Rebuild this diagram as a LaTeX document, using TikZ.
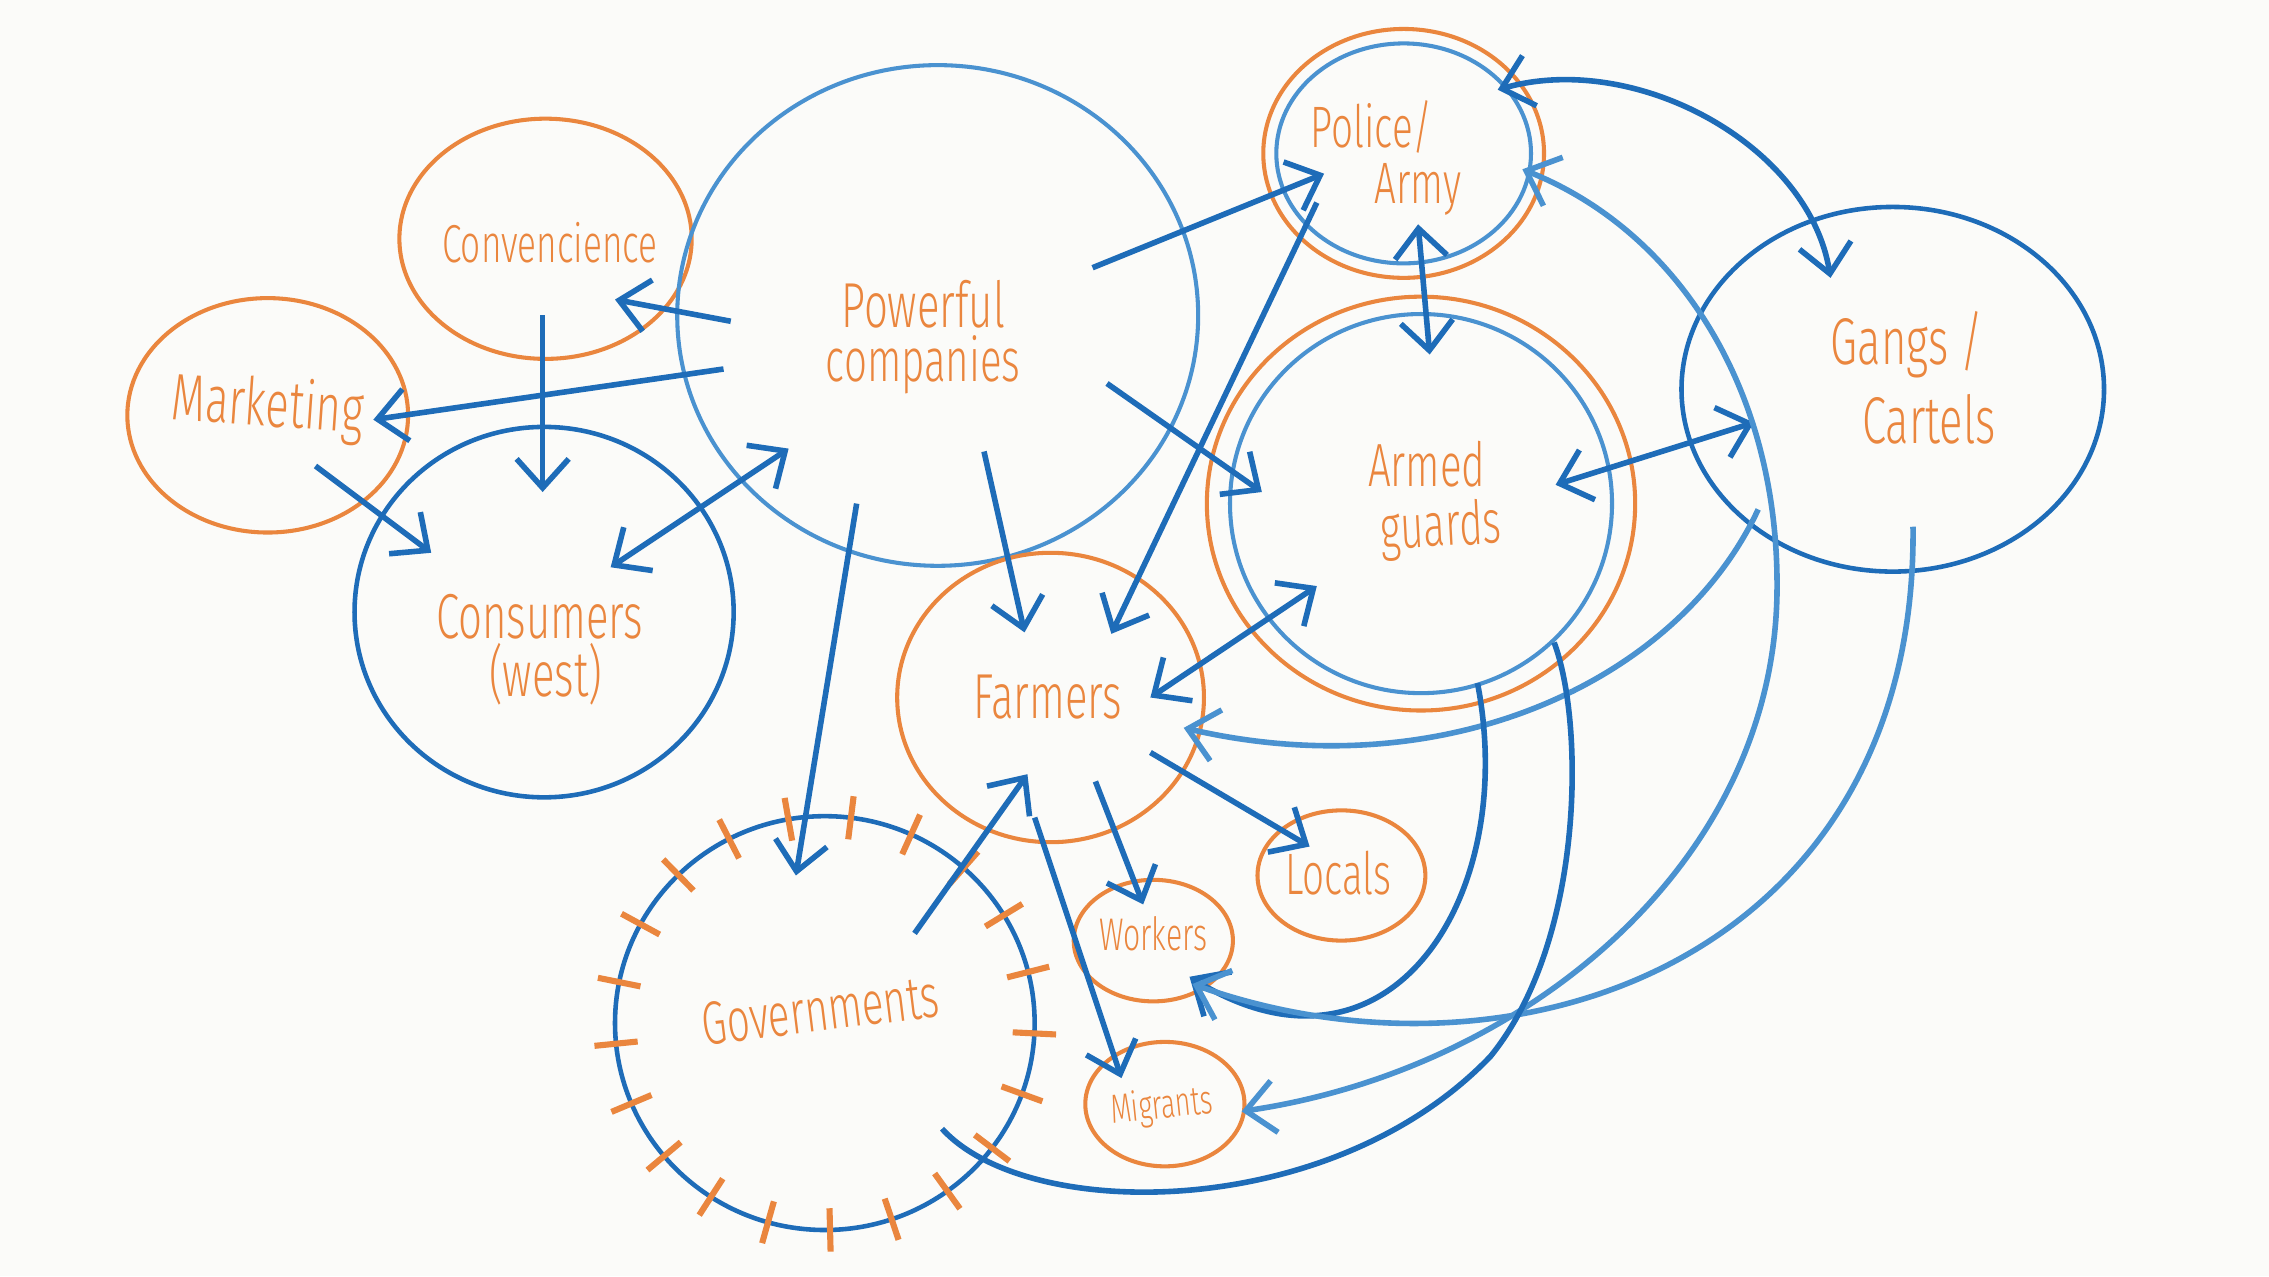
\documentclass[tikz,border=0pt]{standalone}
\usepackage{fontspec}
\newfontfamily\hand{Fira Sans Light}[FakeStretch=0.66]
\usetikzlibrary{shapes.geometric,arrows.meta,calc}
\definecolor{org}{RGB}{234,134,62}
\definecolor{blu}{RGB}{30,108,184}
\definecolor{lblu}{RGB}{74,146,208}
\definecolor{paper}{RGB}{251,251,249}
\begin{document}
\begin{tikzpicture}[x=0.1mm,y=-0.1mm,
 ocirc/.style={ellipse,draw=org,line width=0.8pt,inner sep=0pt},
 bcirc/.style={ellipse,draw=blu,line width=0.9pt,inner sep=0pt},
 lcirc/.style={ellipse,draw=lblu,line width=0.8pt,inner sep=0pt},
 lbl/.style={text=org,font=\hand\fontsize{#1}{#1}\selectfont,inner sep=0pt},
 lbl/.default=12,
 arr/.style={draw=blu,line width=1.1pt,-{Straight Barb[length=2mm,width=3.6mm]}},
 darr/.style={arr,{Straight Barb[length=2mm,width=3.6mm]}-{Straight Barb[length=2mm,width=3.6mm]}},
 ln/.style={draw=blu,line width=1.1pt},
 tick/.style={draw=org,line width=1.2pt}]
\fill[paper] (0,0) rectangle (1568,882);
\useasboundingbox (0,0) rectangle (1568,882);

% circles
\node[ocirc,minimum width=20.2mm,minimum height=16.6mm] (conv) at (377,165) {};
\node[ocirc,minimum width=19.4mm,minimum height=16.2mm] (mkt) at (185,287) {};
\node[lcirc,minimum width=36mm,minimum height=34.6mm] (pc) at (648,218) {};
\node[bcirc,minimum width=26.2mm,minimum height=25.6mm] (cons) at (376,423) {};
\node[ocirc,minimum width=19.4mm,minimum height=17.2mm] (pol) at (970,106) {};
\node[lcirc,minimum width=17.6mm,minimum height=15.2mm] (pol-in) at (970,106) {};
\node[ocirc,minimum width=29.6mm,minimum height=28.6mm] (arm) at (982,348) {};
\node[lcirc,minimum width=26.4mm,minimum height=26.2mm] (arm-in) at (982,348) {};
\node[bcirc,minimum width=29.2mm,minimum height=25.2mm] (gang) at (1308,269) {};
\node[ocirc,minimum width=21.2mm,minimum height=20mm] (farm) at (726,482) {};
\node[ocirc,minimum width=11.6mm,minimum height=9mm] (loc) at (927,605) {};
\node[ocirc,minimum width=11mm,minimum height=8.4mm] (work) at (797,650) {};
\node[ocirc,minimum width=11mm,minimum height=8.6mm] (mig) at (805,763) {};
\node[bcirc,minimum width=29mm,minimum height=28.6mm] (gov) at (570,707) {};

% government ticks
\foreach \i in {0,...,20} {
  \pgfmathsetmacro\a{-100+\i*360/21}
  \draw[tick] ($(gov.center)+({130*cos(\a)},{128*sin(\a)})$) -- ($(gov.center)+({160*cos(\a)},{158*sin(\a)})$);
}

% labels
\node[lbl=10.5] (conv-t) at (380,168) {Convencience};
\node[lbl=13,rotate=-4] (mkt-t) at (185,282) {Marketing};
\node[lbl=12.5] (pc-a) at (638,210) {Powerful};
\node[lbl=12] (pc-b) at (638,252) {companies};
\node[lbl=11.5] (pol-a) at (948,88) {Police/};
\node[lbl=11.5] (pol-b) at (980,131) {Army};
\node[lbl=12] (arm-a) at (986,321) {Armed};
\node[lbl=12,rotate=3] (arm-b) at (996,366) {guards};
\node[lbl=13] (gang-a) at (1318,238) {Gangs /};
\node[lbl=13] (gang-b) at (1333,290) {Cartels};
\node[lbl=12.5] (cons-a) at (373,426) {Consumers};
\node[lbl=12.5] (cons-b) at (377,466) {(west)};
\node[lbl=12.5] (farm-t) at (724,482) {Farmers};
\node[lbl=11.5] (loc-t) at (925,603) {Locals};
\node[lbl=9] (work-t) at (797,645) {Workers};
\node[lbl=8,rotate=6] (mig-t) at (803,765) {Migrants};
\node[lbl=12,rotate=7] (gov-t) at (567,698) {Governments};

% straight connectors
\draw[arr] ($(pc)+(-143,4)$) -- ($(conv)+(48,42)$);
\draw[arr] ($(pc)+(-148,37)$) -- ($(mkt)+(73,3)$);
\draw[arr] ($(conv)+(-2,53)$) -- ($(cons)+(-1,-83)$);
\draw[arr] ($(mkt)+(33,35)$) -- ($(cons)+(-78,-41)$);
\draw[darr] ($(cons)+(46,-31)$) -- ($(pc)+(-103,92)$);
\draw[arr] ($(pc)+(107,-33)$) -- ($(pol)+(-55,14)$);
\draw[arr] ($(pc)+(117,47)$) -- ($(arm)+(-110,-8)$);
\draw[arr] ($(pc)+(32,94)$) -- ($(farm)+(-18,-45)$);
\draw[arr] ($(pc)+(-56,130)$) -- ($(gov)+(-20,-102)$);
\draw[arr] ($(pol)+(-60,34)$) -- ($(farm)+(42,-44)$);
\draw[darr] ($(pol)+(10,49)$) -- ($(arm)+(6,-103)$);
\draw[darr] ($(arm)+(-72,57)$) -- ($(farm)+(69,0)$);
\draw[darr] ($(arm)+(93,-13)$) -- ($(gang)+(-96,23)$);
\draw[arr] ($(gov)+(62,-62)$) -- ($(farm)+(-16,53)$);
\draw[arr] ($(farm)+(31,58)$) -- ($(work)+(-7,-25)$);
\draw[arr] ($(farm)+(69,38)$) -- ($(loc)+(-22,-20)$);
\draw[arr] ($(farm)+(-11,83)$) -- ($(mig)+(-30,-18)$);

% curved connectors
\draw[darr] ($(pol)+(65,-44)$) .. controls (1130,35) and (1250,100) .. ($(gang)+(-43,-77)$);
\draw[darr,draw=lblu] ($(pol)+(82,11)$) .. controls (1160,160) and (1230,270) .. (1228,410) .. controls (1225,600) and (1050,740) .. ($(mig)+(53,5)$);
\draw[arr,draw=lblu] ($(gang)+(-93,83)$) .. controls (1160,470) and (1000,545) .. ($(farm)+(92,21)$);
\draw[arr] ($(arm)+(39,124)$) .. controls (1050,620) and (960,760) .. ($(work)+(25,25)$);
\draw[arr,draw=lblu] ($(gang)+(14,95)$) .. controls (1325,660) and (1050,760) .. ($(work)+(27,30)$);
\draw[ln] ($(gov)+(81,73)$) .. controls (710,845) and (920,845) .. (1030,730) .. controls (1095,650) and (1095,500) .. ($(arm)+(92,96)$);
\end{tikzpicture}
\end{document}
